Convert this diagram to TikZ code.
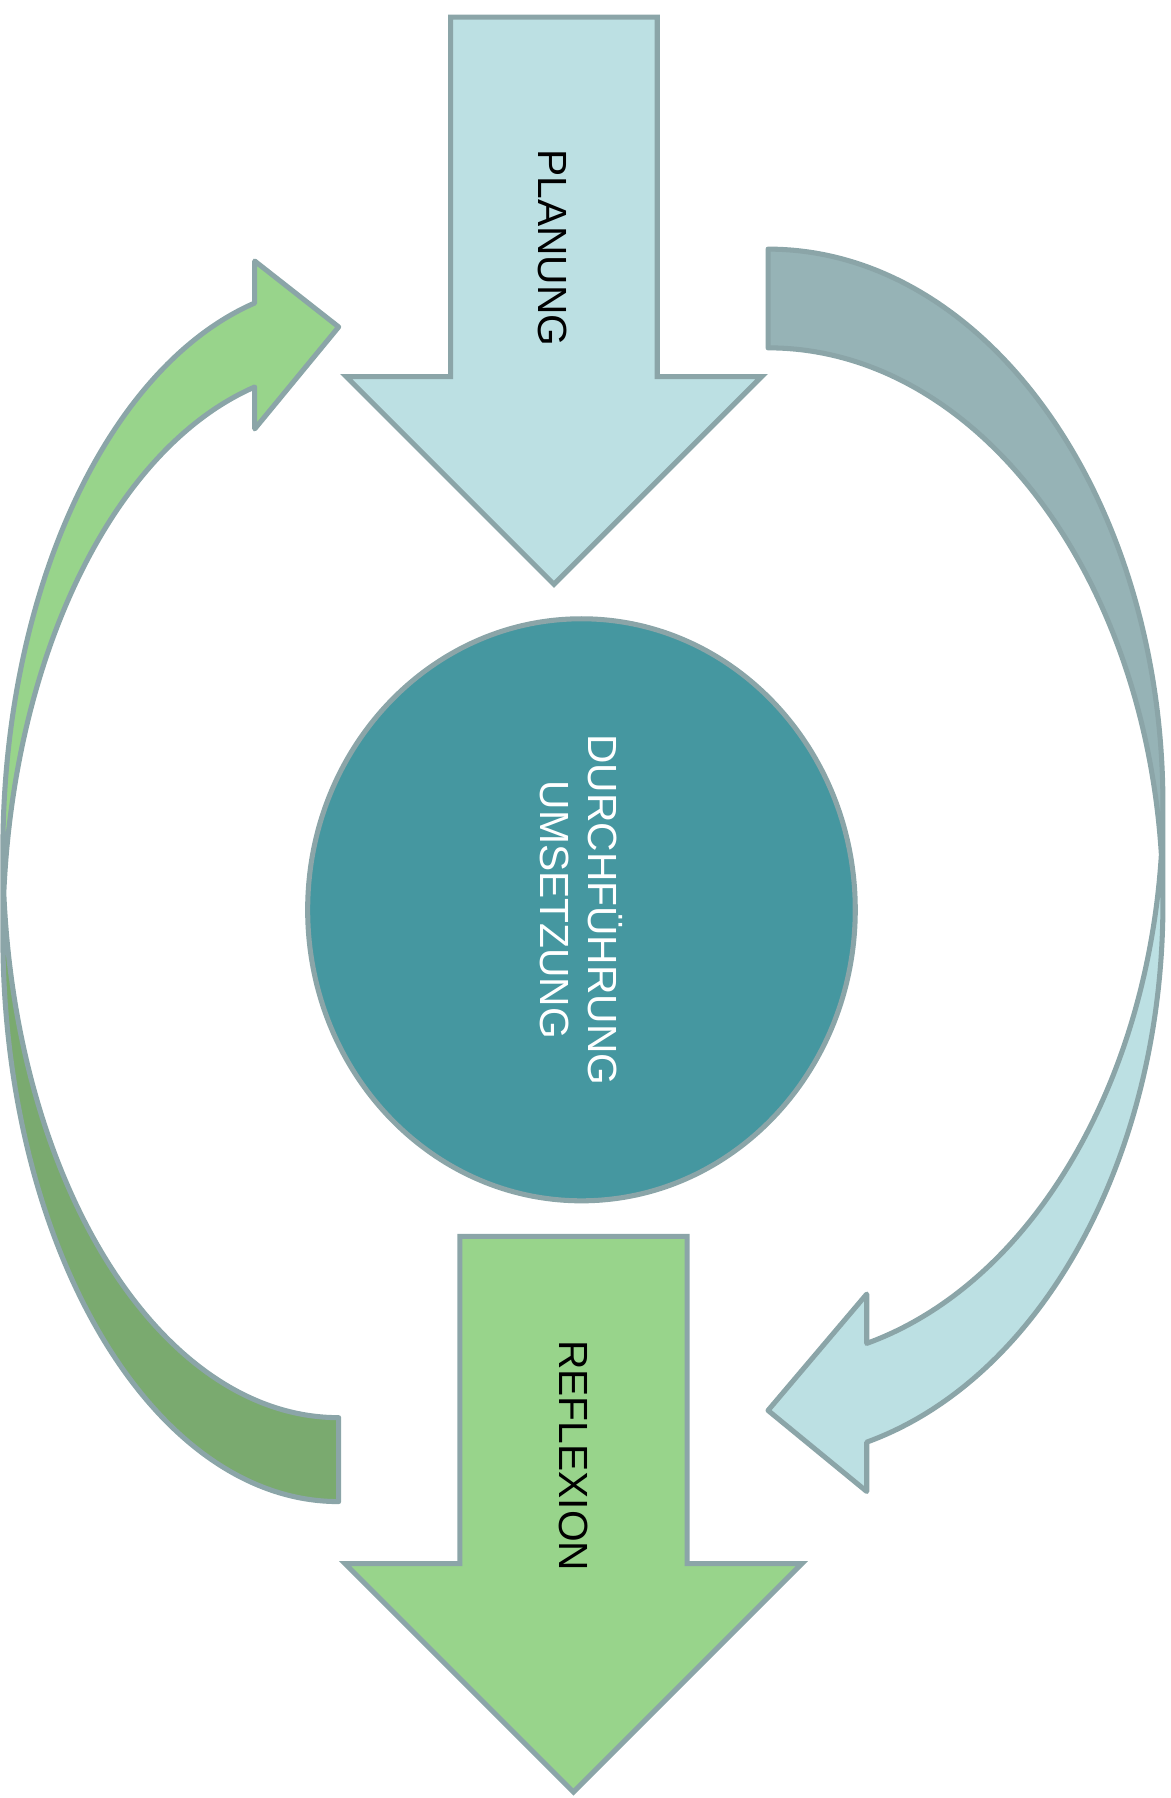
\documentclass[tikz,border=0pt]{standalone}
\usepackage{fontspec}
\setmainfont{Liberation Sans}
\usetikzlibrary{calc,shapes.geometric}
\definecolor{lblue}{RGB}{188,224,227}
\definecolor{gback}{RGB}{150,179,182}
\definecolor{edgec}{RGB}{139,165,168}
\definecolor{tealc}{RGB}{69,151,160}
\definecolor{lgreen}{RGB}{152,212,139}
\definecolor{dgreen}{RGB}{122,170,111}
\begin{document}
\begin{tikzpicture}[x=0.5pt,y=-0.5pt,
  shapeline/.style={draw=edgec,line width=2.2pt},
  lblfont/.style={font=\fontsize{17.75}{20.75}\selectfont},
  lbl/.style={lblfont,rotate=-90,inner sep=0pt},
  gR/.style={x radius=292.5,y radius=493.3},
  bR/.style={x radius=344,y radius=484.3}]
\useasboundingbox (0,0) rectangle (1020,1566.2);

% ---------- PLANUNG block arrow ----------
\draw[shapeline,fill=lblue,line join=miter]
  (392.5,15) -- (572.5,15) -- (572.5,328) -- (663.5,328) -- (482.5,509)
  -- (301.5,328) -- (392.5,328) -- cycle;
\node[lbl,text=black] (planung) at (481,216) {PLANUNG};

% ---------- REFLEXION block arrow ----------
\draw[shapeline,fill=lgreen,line join=miter]
  (400.5,1077) -- (598.5,1077) -- (598.5,1362) -- (698.5,1362) -- (499.5,1561)
  -- (300.5,1362) -- (400.5,1362) -- cycle;
\node[lbl,text=black] (reflexion) at (499.4,1268) {REFLEXION};

% ---------- central ellipse ----------
\node[ellipse,shapeline,fill=tealc,rotate=-90,minimum width=253.5pt,
  minimum height=238.5pt,inner sep=0pt,text=white,align=center,lblfont]
  (durch) at (506.5,792.5) {DURCHFÜHRUNG\\UMSETZUNG};

% ---------- left curved arrow (green) ----------
\coordinate (gA) at (295,814.7);
\coordinate (gB) at (295,741.575);
\fill[dgreen] ($(gA)+(90:292.5 and 493.3)$)
  arc[start angle=90,end angle=184.25,gR]
  arc[start angle=175.75,end angle=90,gR] -- cycle;
\fill[lgreen] ($(gA)+(180:292.5 and 493.3)$)
  arc[start angle=180,end angle=255.52,gR]
  -- (221.875,373.62) -- (295,284.8) -- (221.875,227.37) -- (221.875,263.94)
  arc[start angle=255.52,end angle=180,gR] -- cycle;
\draw[shapeline,line join=round] ($(gA)+(180:292.5 and 493.3)$)
  arc[start angle=180,end angle=255.52,gR]
  -- (221.875,373.62) -- (295,284.8) -- (221.875,227.37) -- (221.875,263.94)
  arc[start angle=255.52,end angle=180,gR]
  -- (2.5,814.7)
  arc[start angle=180,end angle=90,gR]
  -- (295,1234.875)
  arc[start angle=90,end angle=175.75,gR];

% ---------- right curved arrow (blue) ----------
\coordinate (bA) at (669,701.3);
\coordinate (bB) at (669,787.3);
\fill[gback] ($(bA)+(-90:344 and 484.3)$)
  arc[start angle=-90,end angle=5.094,bR]
  arc[start angle=-5.094,end angle=-90,bR] -- cycle;
\fill[lblue] ($(bA)+(0:344 and 484.3)$)
  arc[start angle=0,end angle=75.52,bR]
  -- (755,1127.2) -- (669,1228.6) -- (755,1299.2) -- (755,1256.2)
  arc[start angle=75.52,end angle=0,bR] -- cycle;
\draw[shapeline,line join=round] ($(bA)+(0:344 and 484.3)$)
  arc[start angle=0,end angle=75.52,bR]
  -- (755,1127.2) -- (669,1228.6) -- (755,1299.2) -- (755,1256.2)
  arc[start angle=75.52,end angle=0,bR]
  -- (1013,701.3)
  arc[start angle=0,end angle=-90,bR]
  -- (669,303)
  arc[start angle=-90,end angle=-5.094,bR];
\end{tikzpicture}
\end{document}
